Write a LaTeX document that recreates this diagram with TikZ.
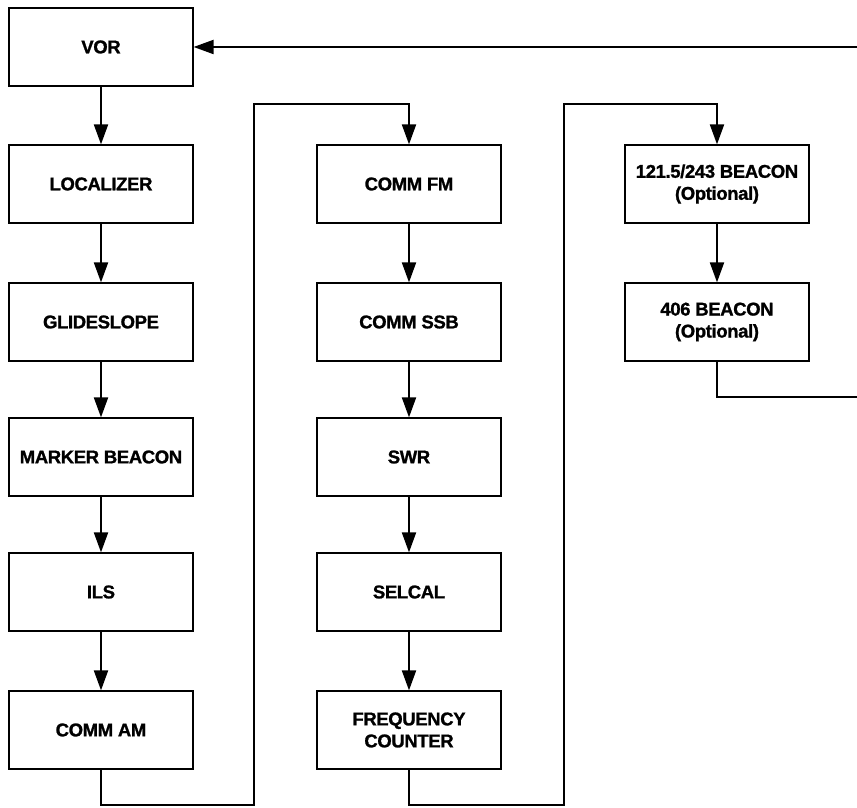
\documentclass[tikz,border=0pt]{standalone}
\usepackage{fontspec}
\setmainfont{Liberation Sans}
\newfontfamily\boxfont[FakeBold=1.2, LetterSpace=-2]{Liberation Sans Bold}
\usetikzlibrary{arrows.meta}
\tikzset{
  unit/.style={shape=rectangle, draw=black, line width=1.2pt, minimum width=184pt,
    minimum height=78pt, inner sep=0pt, align=center,
    font=\fontsize{18.5}{22}\boxfont},
  flow/.style={line width=2pt, -{Triangle[length=20pt,width=14pt]}},
  wire/.style={line width=2pt}
}
\begin{document}
\begin{tikzpicture}[x=1pt, y=1pt]
      \useasboundingbox (0,0) rectangle (857,808);
      % first column
      \node (vor) [unit] at (101,761) {VOR};
      \node (loc) [unit] at (101,624) {LOCALIZER};
      \node (gs) [unit] at (101,486) {GLIDESLOPE};
      \node (mb) [unit] at (101,351) {MARKER BEACON};
      \node (ils) [unit] at (101,216) {ILS};
      \node (am) [unit] at (101,78) {COMM AM};
      % second column
      \node (fm) [unit] at (409,624) {COMM FM};
      \node (ssb) [unit] at (409,486) {COMM SSB};
      \node (swr) [unit] at (409,351) {SWR};
      \node (sel) [unit] at (409,216) {SELCAL};
      \node (fc) [unit] at (409,78) {FREQUENCY\\COUNTER};
      % third column
      \node (b121) [unit] at (717,624) {121.5/243 BEACON\\(Optional)};
      \node (b406) [unit] at (717,486) {406 BEACON\\(Optional)};
      \coordinate (r) at (865,411);
      \draw [flow] (vor) -- (loc);
      \draw [flow] (loc) -- (gs);
      \draw [flow] (gs) -- (mb);
      \draw [flow] (mb) -- (ils);
      \draw [flow] (ils) -- (am);
      \draw [flow] (fm) -- (ssb);
      \draw [flow] (ssb) -- (swr);
      \draw [flow] (swr) -- (sel);
      \draw [flow] (sel) -- (fc);
      \draw [flow] (b121) -- (b406);
      \draw [flow] (am.south) -- ++(0,-35) -| (254,704) -| (fm.north);
      \draw [flow] (fc.south) -- ++(0,-35) -| (564,704) -| (b121.north);
      \draw [flow] (b406.south) |- (r) |- (vor.east);
    \end{tikzpicture}
\end{document}
